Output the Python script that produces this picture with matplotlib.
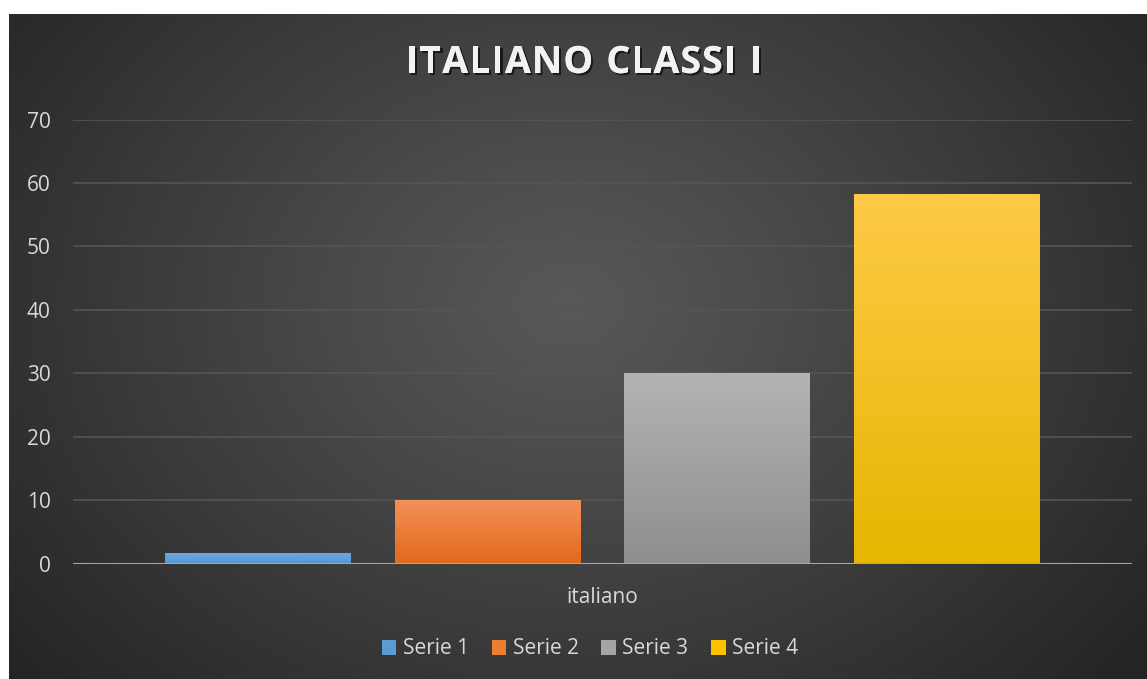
import numpy as np
import matplotlib
matplotlib.use("Agg")
import matplotlib.pyplot as plt
from matplotlib import patheffects as pe
from matplotlib.patches import Patch
from matplotlib.colors import to_rgb

categories = ["italiano"]
series = ["Serie 1", "Serie 2", "Serie 3", "Serie 4"]
values = [1.7, 10, 30, 58.3]
yticks = [0, 10, 20, 30, 40, 50, 60, 70]
title = "ITALIANO CLASSI I"

top_colors = ["#6eaae3", "#f39159", "#b4b4b4", "#ffca48"]
bot_colors = ["#5a96d2", "#e4691b", "#8e8e8e", "#e6b600"]
leg_colors = ["#5b9bd5", "#ed7d31", "#a5a5a5", "#ffc000"]

W, H = 1147, 679
plt.rcParams['font.family'] = ['Open Sans', 'DejaVu Sans']
fig = plt.figure(figsize=(W / 100, H / 100), dpi=100)
fig.patch.set_facecolor('white')

# background radial gradient
bg = fig.add_axes([9 / W, 0, (W - 9) / W, (H - 14) / H])
bg.axis('off')
yy, xx = np.mgrid[0:665, 0:1138]
cx, cy = 560, 290
r = np.sqrt(((xx - cx) / 720.0) ** 2 + ((yy - cy) / 560.0) ** 2)
r = np.clip(r, 0, 1)
c = 0.345 - (0.345 - 0.145) * r ** 1.1
img = np.dstack([c, c, c])
bg.imshow(img, aspect='auto', extent=[0, 1, 0, 1], origin='upper', interpolation='bilinear')
bg.set_xlim(0, 1)
bg.set_ylim(0, 1)

# plot axes
x0, x1 = 73, 1132
y0px, y70px = 563.5, 119.5
ax = fig.add_axes([x0 / W, (H - y0px) / H, (x1 - x0) / W, (y0px - y70px) / H])
ax.patch.set_alpha(0)
ax.set_xlim(-0.5, 0.5)
ax.set_ylim(0, 70)

width = 0.1756
step = 0.2168
for i, (v, tc, bc) in enumerate(zip(values, top_colors, bot_colors)):
    xc = (i - 1.5) * step
    b = ax.bar(xc, v, width=width, color=bc, zorder=3, linewidth=0)[0]
    t = np.array(to_rgb(tc))
    bo = np.array(to_rgb(bc))
    n = 256
    f = np.linspace(0, 1, n)[:, None]
    grad = (t[None, :] * (1 - f) + bo[None, :] * f)[:, None, :]
    im = ax.imshow(grad, aspect='auto', extent=[xc - width / 2, xc + width / 2, 0, v],
                   origin='upper', zorder=4, interpolation='bilinear')
    im.set_clip_path(b)

ax.set_xlim(-0.5, 0.5)
ax.set_ylim(0, 70)
ax.set_yticks(yticks)
ax.set_yticklabels([str(t) for t in yticks])
ax.set_xticks([0])
ax.set_xticklabels(categories)
ax.tick_params(axis='y', length=0, pad=16, labelsize=15, labelcolor='#d9d9d9')
ax.tick_params(axis='x', length=0, pad=17, labelsize=15, labelcolor='#d9d9d9')
ax.grid(axis='y', color='#555555', linewidth=1.2, zorder=0)
for s in ax.spines.values():
    s.set_visible(False)
ax.axhline(0, color='#a6a6a6', linewidth=2.2, zorder=5)

# title with letter spacing
renderer = fig.canvas.get_renderer()
fs = 27
effects = [pe.withSimplePatchShadow(offset=(1.5, -1.5), shadow_rgbFace='black', alpha=0.6), pe.Normal()]
widths = []
for ch in title:
    tt = fig.text(0, 0, ch if ch != ' ' else 'I', fontsize=fs, fontweight='bold')
    w = tt.get_window_extent(renderer).width
    if ch == ' ':
        w *= 0.9
    widths.append(w)
    tt.remove()
left_px, right_px = 406, 762
total = sum(widths)
gap = (right_px - left_px - total) / (len(title) - 1)
xpos = left_px
for ch, w in zip(title, widths):
    if ch != ' ':
        fig.text(xpos / W, 1 - 63 / H, ch, ha='left', va='center', fontsize=fs,
                 fontweight='bold', color='#f2f2f2', path_effects=effects)
    xpos += w + gap

# legend
handles = [Patch(facecolor=c_, edgecolor='none') for c_ in leg_colors]
fig.legend(handles, series, loc='center', bbox_to_anchor=(590 / W, 1 - 649 / H), ncol=4,
           frameon=False, fontsize=15, labelcolor='#d9d9d9', handlelength=0.7,
           handleheight=0.7, handletextpad=0.3, columnspacing=1.1)

fig.savefig('out.png', dpi=100, facecolor='white')
